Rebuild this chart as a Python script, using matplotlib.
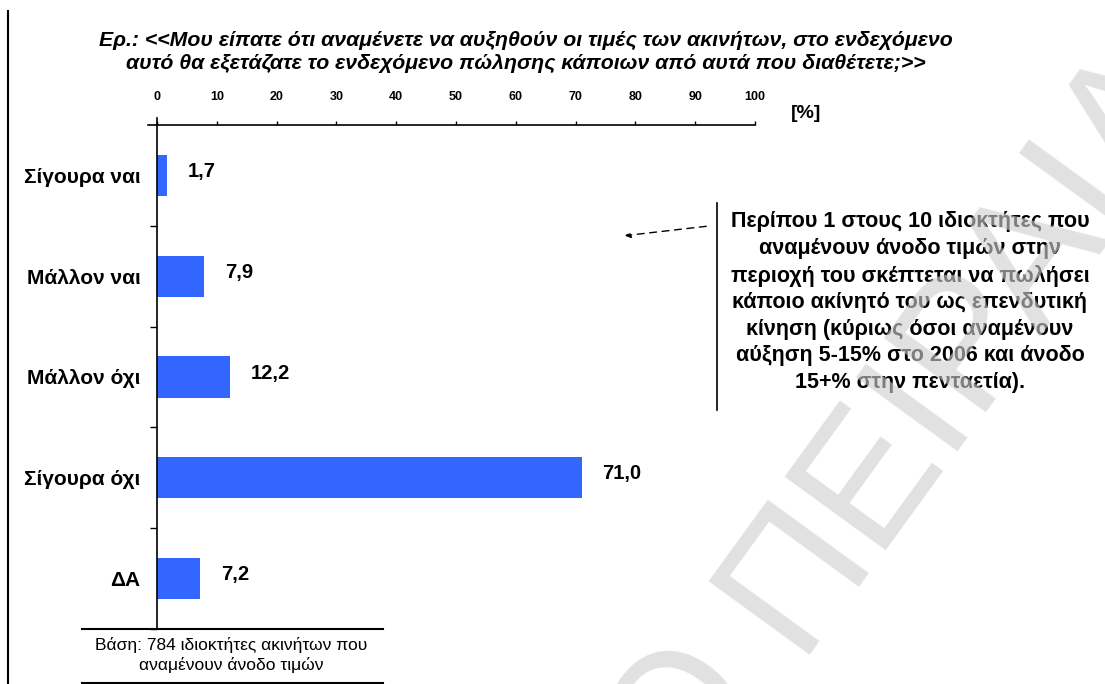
import matplotlib.pyplot as plt
import numpy as np
from matplotlib.lines import Line2D
from matplotlib.patches import FancyArrowPatch

plt.rcParams['font.family'] = ['Liberation Sans', 'DejaVu Sans']

# Δεδομένα
categories = ['Σίγουρα ναι', 'Μάλλον ναι', 'Μάλλον όχι', 'Σίγουρα όχι', 'ΔΑ']
values = [1.7, 7.9, 12.2, 71.0, 7.2]
xticks = [0, 10, 20, 30, 40, 50, 60, 70, 80, 90, 100]

title_lines = ['Ερ.: <<Μου είπατε ότι αναμένετε να αυξηθούν οι τιμές των ακινήτων, στο ενδεχόμενο',
               'αυτό θα εξετάζατε το ενδεχόμενο πώλησης κάποιων από αυτά που διαθέτετε;>>']
note_lines = ['Περίπου 1 στους 10 ιδιοκτήτες που',
              'αναμένουν άνοδο τιμών στην',
              'περιοχή του σκέπτεται να πωλήσει',
              'κάποιο ακίνητό του ως επενδυτική',
              'κίνηση (κύριως όσοι αναμένουν',
              'αύξηση 5-15% στο 2006 και άνοδο',
              '15+% στην πενταετία).']
base_lines = ['Βάση: 784 ιδιοκτήτες ακινήτων που', 'αναμένουν άνοδο τιμών']

W, H = 1105, 684
fig = plt.figure(figsize=(W / 100, H / 100), dpi=100)


def fx(px):
    return px / W


def fy(py):
    return 1 - py / H


ax = fig.add_axes([fx(157), fy(629), fx(755) - fx(157), fy(125) - fy(629)])

y = np.arange(len(categories))
ax.barh(y, values, height=0.41, color='#3366ff', zorder=2)
ax.set_xlim(0, 100)
ax.set_ylim(len(categories) - 0.5, -0.5)

# άξονας x επάνω
ax.xaxis.tick_top()
ax.set_xticks(xticks)
ax.set_xticklabels([str(t) for t in xticks], fontsize=9, fontweight='bold')
ax.tick_params(axis='x', length=3, width=1, pad=13, direction='out')

ax.set_yticks(y)
ax.set_yticklabels(categories, fontsize=15, fontweight='bold')
ax.set_yticks(np.arange(1, len(categories) + 1) - 0.5, minor=True)
ax.tick_params(axis='y', which='major', length=0, pad=12)
ax.tick_params(axis='y', which='minor', length=5, width=1, direction='out')

for s in ['right', 'bottom']:
    ax.spines[s].set_visible(False)
for s in ['top', 'left']:
    ax.spines[s].set_linewidth(1.2)

for yi, v in zip(y, values):
    ax.annotate(f'{v:.1f}'.replace('.', ','), (v, yi), xytext=(21, 4),
                textcoords='offset pixels', ha='left', va='center',
                fontsize=14.5, fontweight='bold')

# σταυρός στην αρχή των αξόνων
fig.add_artist(Line2D([fx(148), fx(157)], [fy(125), fy(125)], color='black', lw=1.2))
fig.add_artist(Line2D([fx(157), fx(157)], [fy(118), fy(125)], color='black', lw=1.2))

# τίτλος
for i, line in enumerate(title_lines):
    fig.text(fx(526), fy(40 + 23 * i), line, ha='center', va='center',
             fontsize=15.3, fontweight='bold', style='italic')

fig.text(fx(806), fy(113), '[%]', ha='center', va='center',
         fontsize=14, fontweight='bold')

# σχόλιο δεξιά
for i, line in enumerate(note_lines):
    fig.text(fx(910), fy(222 + 26.8 * i), line, ha='center', va='center',
             fontsize=15.5, fontweight='bold')
fig.add_artist(Line2D([fx(717), fx(717)], [fy(203), fy(410)], color='black', lw=1.2))
fig.add_artist(FancyArrowPatch((fx(709), fy(226)), (fx(622), fy(236)),
                               transform=fig.transFigure, arrowstyle='-|>',
                               mutation_scale=8, linestyle=(0, (5, 4)),
                               color='black', lw=1))

# βάση δείγματος
fig.add_artist(Line2D([fx(82), fx(383)], [fy(629), fy(629)], color='black', lw=1.5))
fig.add_artist(Line2D([fx(82), fx(383)], [fy(683), fy(683)], color='black', lw=1.5))
for i, line in enumerate(base_lines):
    fig.text(fx(231), fy(645 + 20 * i), line, ha='center', va='center', fontsize=12.5)

# περιθώριο σελίδας
fig.add_artist(Line2D([fx(8), fx(8)], [fy(11), fy(684)], color='black', lw=1.5))

# υδατογράφημα
wm = dict(rotation=54, rotation_mode='anchor', va='baseline', fontsize=130,
          color=(0.81, 0.81, 0.81), alpha=0.62, zorder=10)
fig.text(fx(795), fy(655), 'ΠΕΙΡΑΙΑ', ha='left', **wm)
fig.text(fx(795), fy(655), 'Ο ', ha='right', **wm)

fig.savefig('out.png', dpi=100)
